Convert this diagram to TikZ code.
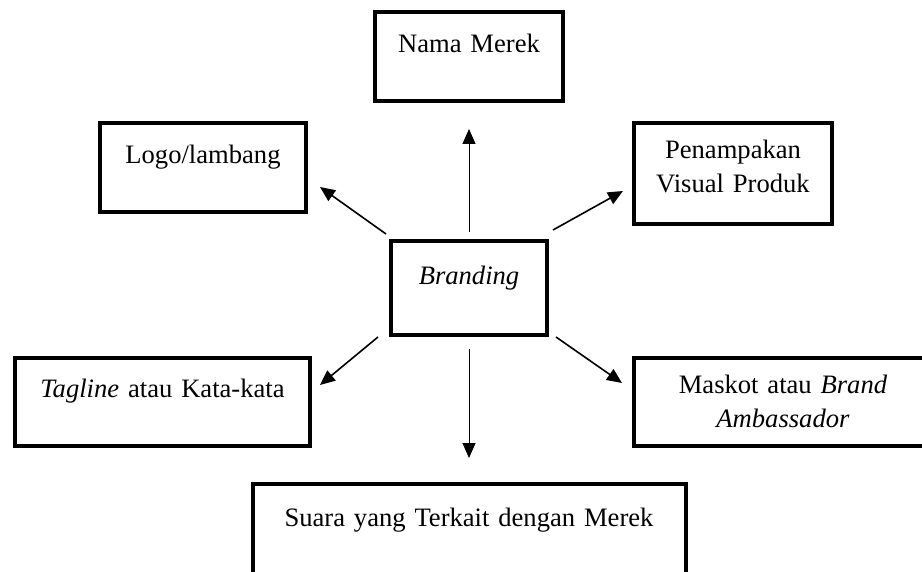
\documentclass[tikz,border=0pt]{standalone}
\usepackage{fontspec}
\setmainfont{Liberation Serif}
\usepackage{tikz}
\usetikzlibrary{arrows.meta, positioning}

\begin{document}
\begin{tikzpicture}[
  x=1pt, y=-1pt,
  kotak/.style={rectangle, draw=black, fill=white, line width=4pt, inner sep=0pt, align=center, text height=18pt, font=\fontsize{26.6}{34}\selectfont},
  panah/.style={-{Triangle[length=15pt, width=13pt]}, line width=1.6pt},
  panahtipis/.style={panah, line width=1pt}
]
\useasboundingbox (0,0) rectangle (922,572);
\clip (0,0) rectangle (922,572);

% Pusat
\node[kotak, minimum width=156pt, minimum height=94pt, text width=150pt, text depth=24pt] (brand) at (469,288) {\textit{Branding}};

% Kotak sekeliling
\node[kotak, minimum width=188pt, minimum height=89pt, text width=180pt, text depth=25pt, above=136pt of brand] (nama) {Nama Merek};
\node[kotak, minimum width=206pt, minimum height=89pt, text width=200pt, text depth=25pt, above left=25pt and 81pt of brand] (logo) {Logo/lambang};
\node[kotak, minimum width=198pt, minimum height=101pt, text width=190pt, text depth=47pt, above right=13pt and 83pt of brand] (visual) {Penampakan\\Visual Produk};
\node[kotak, minimum width=295pt, minimum height=88pt, text width=290pt, text depth=26pt, below left=19pt and 77pt of brand] (tagline) {\textit{Tagline} atau Kata-kata};
\node[kotak, minimum width=298pt, minimum height=88pt, text width=290pt, text depth=36pt, below right=19pt and 83pt of brand] (maskot) {Maskot atau \textit{Brand}\\\textit{Ambassador}};
\node[kotak, minimum width=433pt, minimum height=90pt, text width=420pt, text depth=24pt, below=145pt of brand] (suara) {Suara yang Terkait dengan Merek};

% Panah
\draw[panahtipis] ([shift={(0,-7)}]brand.north) -- ([shift={(0,26)}]nama.south);
\draw[panah] ([shift={(-3,-5)}]brand.north west) -- ([shift={(12,19.5)}]logo.east);
\draw[panah] ([shift={(4,-9)}]brand.north east) -- ([shift={(-9,17.5)}]visual.west);
\draw[panah] ([shift={(-11,0)}]brand.south west) -- ([shift={(8,-17)}]tagline.east);
\draw[panahtipis] ([shift={(0,12)}]brand.south) -- ([shift={(0,-24)}]suara.north);
\draw[panah] ([shift={(7,0)}]brand.south east) -- ([shift={(-10,-19)}]maskot.west);

\end{tikzpicture}
\end{document}
